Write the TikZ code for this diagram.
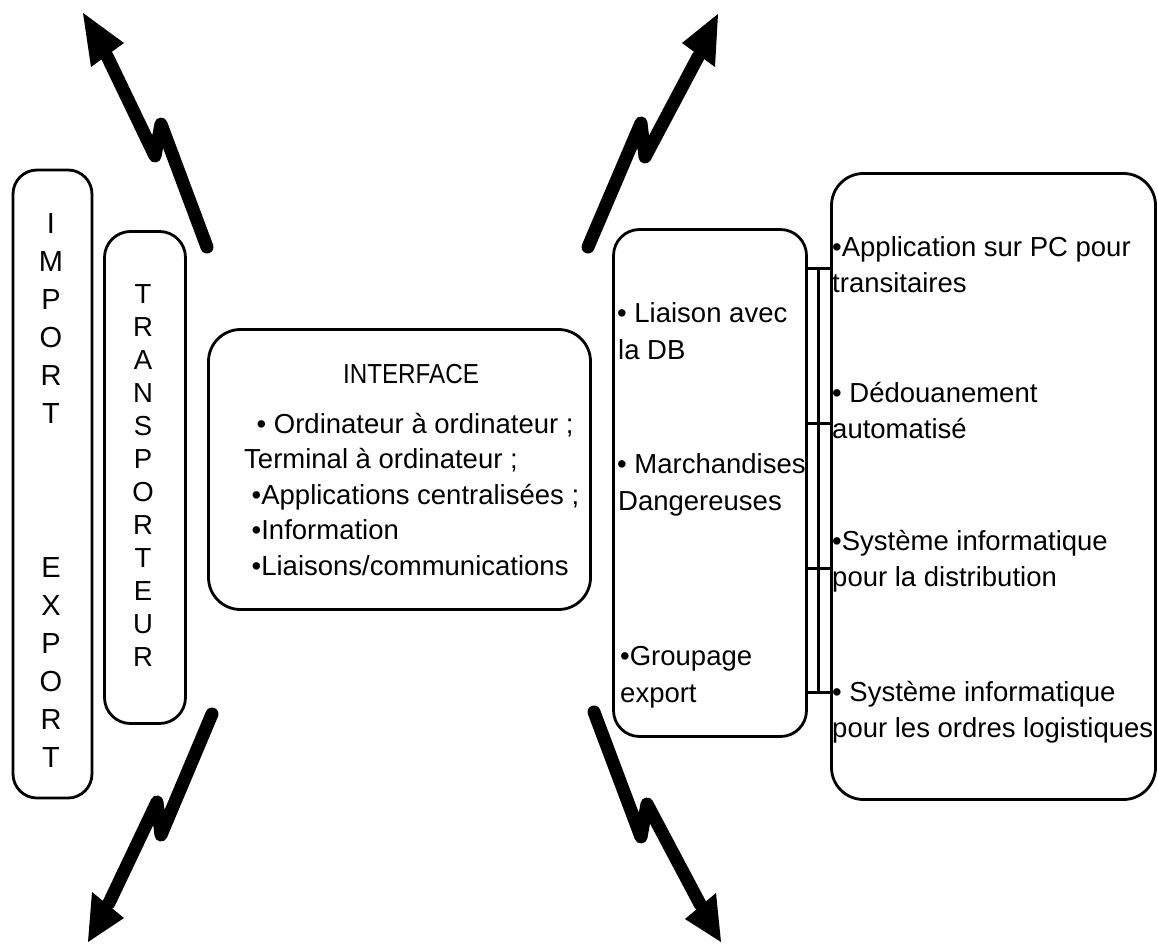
\documentclass[tikz,border=0pt]{standalone}
\usepackage{fontspec}
\setmainfont{Liberation Sans}
\newcommand\ctrletter[1]{\hbox to 40pt{\hss#1\hss}}
\begin{document}
\begin{tikzpicture}[x=1pt,y=-1pt,
  box/.style={draw, line width=2.8pt, rectangle, inner sep=0pt},
  txt/.style={inner sep=0pt, anchor=base west, font=\fontsize{27.5}{36}\selectfont},
  ctxt/.style={inner sep=0pt, anchor=base, font=\fontsize{27.5}{36}\selectfont},
  lettxt/.style={inner sep=0pt, anchor=base, font=\fontsize{29}{36}\selectfont},
  bolt/.style={line width=13pt, line join=round, line cap=round},
  conn/.style={line width=3pt}]
\useasboundingbox (0,0) rectangle (1158,944);

% boxes
\node[box, rounded corners=24pt, minimum width=79pt, minimum height=628pt] (imp) at (52.5,484) {};
\node[box, rounded corners=26pt, minimum width=81pt, minimum height=492pt] (tra) at (145,477.5) {};
\node[box, rounded corners=32pt, minimum width=382pt, minimum height=280pt] (itf) at (399.5,469.5) {};
\node[box, rounded corners=26pt, minimum width=193pt, minimum height=507pt] (mid) at (710,483) {};
\node[box, rounded corners=32pt, minimum width=324pt, minimum height=626pt] (rgt) at (993.5,486.5) {};

% vertical letters
\node[lettxt] (imptxt) at (51,233) {\vtop{\baselineskip=38pt \ctrletter{I}\ctrletter{M}\ctrletter{P}\ctrletter{O}\ctrletter{R}\ctrletter{T}}};
\node[lettxt] (exptxt) at (51,577) {\vtop{\baselineskip=38pt \ctrletter{E}\ctrletter{X}\ctrletter{P}\ctrletter{O}\ctrletter{R}\ctrletter{T}}};
\node[ctxt] (tratxt) at (143,303) {\vtop{\baselineskip=33pt \ctrletter{T}\ctrletter{R}\ctrletter{A}\ctrletter{N}\ctrletter{S}\ctrletter{P}\ctrletter{O}\ctrletter{R}\ctrletter{T}\ctrletter{E}\ctrletter{U}\ctrletter{R}}};

% interface
\node[ctxt] (itftitle) at (411,383) {\scalebox{0.88}[1]{INTERFACE}};
\node[txt] (itftxt) at (244,433) {\vtop{\baselineskip=35.5pt
  \hbox{\kern12.5pt• Ordinateur à ordinateur ;}
  \hbox{Terminal à ordinateur ;}
  \hbox{\kern7.5pt•Applications centralisées ;}
  \hbox{\kern7.5pt•Information}
  \hbox{\kern7.5pt•Liaisons/communications}}};

% middle box text
\node[txt] (m1) at (617,322) {\vtop{\baselineskip=37.5pt\hbox{• Liaison avec}\hbox{\kern1pt la DB}}};
\node[txt] (m2) at (617,473) {\vtop{\baselineskip=37.5pt\hbox{• Marchandises}\hbox{\kern1pt Dangereuses}}};
\node[txt] (m3) at (620,665) {\vtop{\baselineskip=37.5pt\hbox{•Groupage}\hbox{export}}};

% right box text
\node[txt] (r1) at (832,256) {\vtop{\baselineskip=36pt\hbox{•Application sur PC pour}\hbox{transitaires}}};
\node[txt] (r2) at (832,402) {\vtop{\baselineskip=36pt\hbox{• Dédouanement}\hbox{automatisé}}};
\node[txt] (r3) at (832,550) {\vtop{\baselineskip=36pt\hbox{•Système informatique}\hbox{pour la distribution}}};
\node[txt] (r4) at (832,701) {\vtop{\baselineskip=36pt\hbox{• Système informatique}\hbox{pour les ordres logistiques}}};

% connectors between middle and right boxes
\coordinate (bar1) at (818,268);
\coordinate (bar4) at (818,692);
\draw[conn] (bar1) -- (bar4);
\foreach \yy in {268,423,568,692}
  \draw[conn] (mid.east |- 0,\yy) -- (rgt.west |- 0,\yy);

% lightning bolts
% top left
\coordinate (tl0) at (207,247); \coordinate (tl1) at (161,124);
\coordinate (tl2) at (155,156); \coordinate (tl3) at (107,56);
\coordinate (tlt) at (83,13); \coordinate (tla) at (124,43); \coordinate (tlb) at (91,67);
\draw[bolt] (tl0) -- (tl1) -- (tl2) -- (tl3);
\fill (tlt) -- (tla) -- (tlb) -- cycle;
% top right
\coordinate (tr0) at (588,247); \coordinate (tr1) at (641,123);
\coordinate (tr2) at (645,157); \coordinate (tr3) at (698,57);
\coordinate (trt) at (718,14); \coordinate (tra) at (682,43); \coordinate (trb) at (715,67);
\draw[bolt] (tr0) -- (tr1) -- (tr2) -- (tr3);
\fill (trt) -- (tra) -- (trb) -- cycle;
% bottom left
\coordinate (bl0) at (212,714); \coordinate (bl1) at (161,835);
\coordinate (bl2) at (157,802); \coordinate (bl3) at (109,903);
\coordinate (blt) at (88,942); \coordinate (bla) at (92,892); \coordinate (blb) at (124,918);
\draw[bolt] (bl0) -- (bl1) -- (bl2) -- (bl3);
\fill (blt) -- (bla) -- (blb) -- cycle;
% bottom right
\coordinate (br0) at (594,712); \coordinate (br1) at (641,837);
\coordinate (br2) at (647,804); \coordinate (br3) at (700,904);
\coordinate (brt) at (721,942); \coordinate (bra) at (685,919); \coordinate (brb) at (716,893);
\draw[bolt] (br0) -- (br1) -- (br2) -- (br3);
\fill (brt) -- (bra) -- (brb) -- cycle;
\end{tikzpicture}
\end{document}
